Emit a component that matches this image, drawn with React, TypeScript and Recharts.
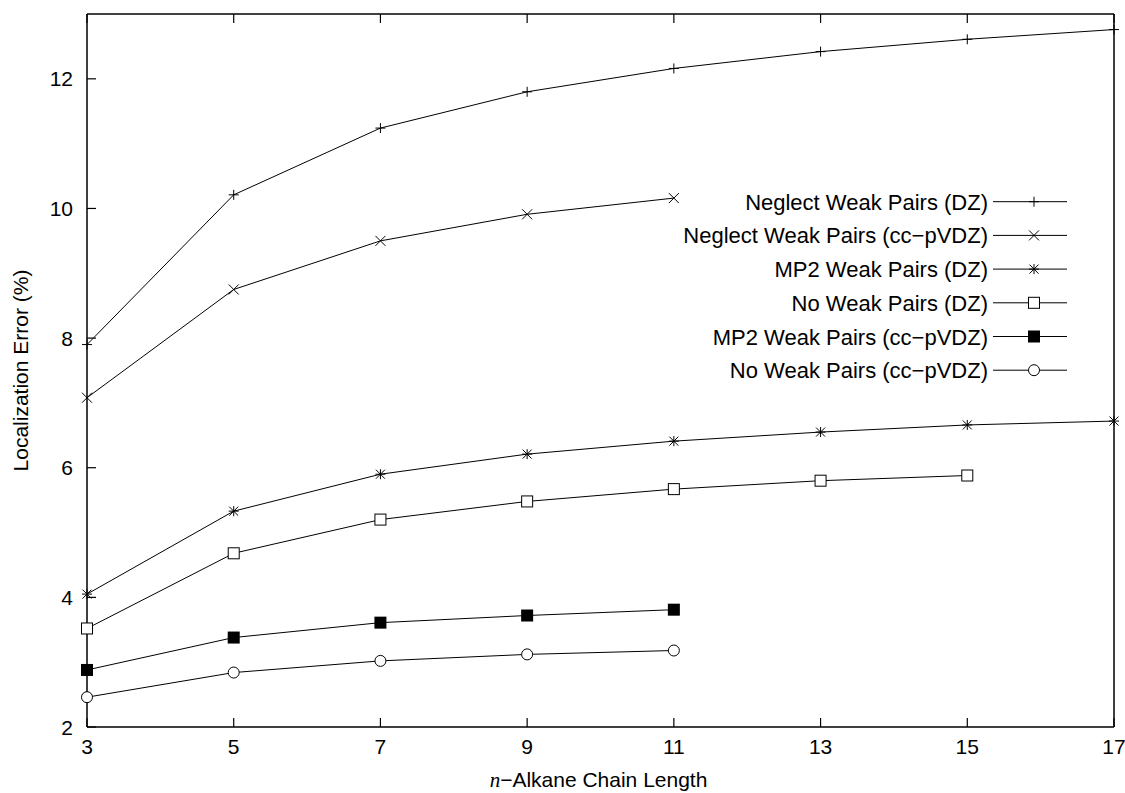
import React from "react";
import { LineChart, Line, XAxis, YAxis, Legend } from "recharts";

// chain length n of the n-alkane
const chainLengths = [3, 5, 7, 9, 11, 13, 15, 17];

// localization error (%) per series, null where there is no point
const neglectDZ = [7.9, 10.21, 11.24, 11.8, 12.16, 12.42, 12.61, 12.76];
const neglectCC = [7.08, 8.75, 9.5, 9.91, 10.16, null, null, null];
const mp2DZ = [4.05, 5.33, 5.9, 6.21, 6.41, 6.55, 6.66, 6.72];
const noDZ = [3.52, 4.68, 5.2, 5.48, 5.67, 5.8, 5.88, null];
const mp2CC = [2.88, 3.38, 3.61, 3.72, 3.81, null, null, null];
const noCC = [2.46, 2.84, 3.02, 3.12, 3.18, null, null, null];

const xTicks = [3, 5, 7, 9, 11, 13, 15, 17];
const yTicks = [2, 4, 6, 8, 10, 12];

type Shape = "plus" | "cross" | "star" | "square" | "filledSquare" | "circle";

const SERIES: { key: string; name: string; values: (number | null)[]; shape: Shape }[] = [
  { key: "neglectDZ", name: "Neglect Weak Pairs (DZ)", values: neglectDZ, shape: "plus" },
  { key: "neglectCC", name: "Neglect Weak Pairs (cc\u2212pVDZ)", values: neglectCC, shape: "cross" },
  { key: "mp2DZ", name: "MP2 Weak Pairs (DZ)", values: mp2DZ, shape: "star" },
  { key: "noDZ", name: "No Weak Pairs (DZ)", values: noDZ, shape: "square" },
  { key: "mp2CC", name: "MP2 Weak Pairs (cc\u2212pVDZ)", values: mp2CC, shape: "filledSquare" },
  { key: "noCC", name: "No Weak Pairs (cc\u2212pVDZ)", values: noCC, shape: "circle" },
];

const data = chainLengths.map((n, i) => {
  const row: Record<string, number | null> = { n };
  SERIES.forEach((s) => {
    row[s.key] = s.values[i];
  });
  return row;
});

const FONT = '"Liberation Sans", Arial, Helvetica, sans-serif';
const INK = "#000";

function Marker({ shape, cx, cy }: { shape: Shape; cx: number; cy: number }) {
  switch (shape) {
    case "plus":
      return (
        <g stroke={INK} strokeWidth={1}>
          <line x1={cx - 5} y1={cy} x2={cx + 5} y2={cy} />
          <line x1={cx} y1={cy - 5} x2={cx} y2={cy + 5} />
        </g>
      );
    case "cross":
      return (
        <g stroke={INK} strokeWidth={1}>
          <line x1={cx - 5} y1={cy - 5} x2={cx + 5} y2={cy + 5} />
          <line x1={cx - 5} y1={cy + 5} x2={cx + 5} y2={cy - 5} />
        </g>
      );
    case "star":
      return (
        <g stroke={INK} strokeWidth={1}>
          <line x1={cx - 5} y1={cy} x2={cx + 5} y2={cy} />
          <line x1={cx} y1={cy - 5} x2={cx} y2={cy + 5} />
          <line x1={cx - 4.5} y1={cy - 4.5} x2={cx + 4.5} y2={cy + 4.5} />
          <line x1={cx - 4.5} y1={cy + 4.5} x2={cx + 4.5} y2={cy - 4.5} />
        </g>
      );
    case "square":
      return <rect x={cx - 5.5} y={cy - 5.5} width={11} height={11} fill="#fff" stroke={INK} strokeWidth={1} />;
    case "filledSquare":
      return <rect x={cx - 6} y={cy - 6} width={12} height={12} fill={INK} />;
    default:
      return <circle cx={cx} cy={cy} r={5.5} fill="#fff" stroke={INK} strokeWidth={1} />;
  }
}

const dotFor = (shape: Shape) => (p: any) => {
  const { cx, cy, index } = p;
  if (cx == null || cy == null || p.value == null) return <g key={`d-${index}`} />;
  return (
    <g key={`d-${index}`}>
      <Marker shape={shape} cx={cx} cy={cy} />
    </g>
  );
};

// gnuplot-style ticks: marks point inward, labels outside
const BottomTick = ({ x, y, payload }: any) => (
  <g>
    <line x1={x} y1={y} x2={x} y2={y - 9} stroke={INK} strokeWidth={1.2} />
    <text x={x} y={y + 27} textAnchor="middle" fontSize={21} fontFamily={FONT} fill={INK}>
      {payload.value}
    </text>
  </g>
);

const LeftTick = ({ x, y, payload }: any) => (
  <g>
    <line x1={x} y1={y} x2={x + 9} y2={y} stroke={INK} strokeWidth={1.2} />
    <text x={x - 14} y={y + 7.5} textAnchor="end" fontSize={21} fontFamily={FONT} fill={INK}>
      {payload.value}
    </text>
  </g>
);

const TopTick = ({ x, y }: any) => <line x1={x} y1={y} x2={x} y2={y + 9} stroke={INK} strokeWidth={1.2} />;
const RightTick = ({ x, y }: any) => <line x1={x} y1={y} x2={x - 9} y2={y} stroke={INK} strokeWidth={1.2} />;

const XLabel = ({ viewBox }: any) => (
  <text
    x={viewBox.x + viewBox.width / 2 - 2}
    y={viewBox.y + 60}
    textAnchor="middle"
    fontSize={21}
    fontFamily={FONT}
    fill={INK}
  >
    <tspan fontFamily='"Liberation Serif", "Times New Roman", serif' fontStyle="italic">
      n
    </tspan>
    <tspan>{"\u2212Alkane Chain Length"}</tspan>
  </text>
);

const YLabel = ({ viewBox }: any) => {
  const cx = viewBox.x + 20;
  const cy = viewBox.y + viewBox.height / 2;
  return (
    <text
      x={cx}
      y={cy}
      transform={`rotate(-90 ${cx} ${cy})`}
      textAnchor="middle"
      dominantBaseline="central"
      fontSize={21}
      fontFamily={FONT}
      fill={INK}
    >
      Localization Error (%)
    </text>
  );
};

// key drawn in SERIES order, inside the plot on the right
const KeyBox = () => (
  <svg width={490} height={220} style={{ display: "block", overflow: "visible" }}>
    {SERIES.map((s, i) => {
      const y = 23.7 + i * 33.7;
      return (
        <g key={s.key}>
          <text x={400} y={y + 8} textAnchor="end" fontSize={22} fontFamily={FONT} fill={INK}>
            {s.name}
          </text>
          <line x1={405} y1={y} x2={479} y2={y} stroke={INK} strokeWidth={1} />
          <Marker shape={s.shape} cx={446} cy={y} />
        </g>
      );
    })}
  </svg>
);

export default function App() {
  return (
    // fixed so the page never scrolls and the chart sits at the viewport origin
    <div style={{ position: "fixed", left: 0, top: 0, width: 1125, height: 793, background: "#fff" }}>
      <LineChart width={1125} height={793} data={data} margin={{ top: 0, right: 0, bottom: 0, left: 0 }}>
        <XAxis
          xAxisId="bottom"
          dataKey="n"
          type="number"
          domain={[3, 17]}
          ticks={xTicks}
          height={66}
          tickSize={0}
          tickMargin={0}
          tickLine={false}
          axisLine={{ stroke: INK, strokeWidth: 1.5 }}
          tick={<BottomTick />}
          label={<XLabel />}
        />
        <XAxis
          xAxisId="top"
          orientation="top"
          dataKey="n"
          type="number"
          domain={[3, 17]}
          ticks={xTicks}
          height={14}
          tickSize={0}
          tickMargin={0}
          tickLine={false}
          axisLine={{ stroke: INK, strokeWidth: 1.5 }}
          tick={<TopTick />}
        />
        <YAxis
          yAxisId="left"
          type="number"
          domain={[2, 13]}
          ticks={yTicks}
          width={87}
          tickSize={0}
          tickMargin={0}
          tickLine={false}
          axisLine={{ stroke: INK, strokeWidth: 1.5 }}
          tick={<LeftTick />}
          label={<YLabel />}
        />
        <YAxis
          yAxisId="right"
          orientation="right"
          type="number"
          domain={[2, 13]}
          ticks={yTicks}
          width={11}
          tickSize={0}
          tickMargin={0}
          tickLine={false}
          axisLine={{ stroke: INK, strokeWidth: 1.5 }}
          tick={<RightTick />}
        />
        <Legend
          layout="vertical"
          align="center"
          verticalAlign="middle"
          wrapperStyle={{ position: "absolute", left: 588, top: 178, width: 490, height: 220 }}
          content={<KeyBox />}
        />
        {SERIES.map((s) => (
          <Line
            key={s.key}
            xAxisId="bottom"
            yAxisId="left"
            dataKey={s.key}
            name={s.name}
            type="linear"
            stroke={INK}
            strokeWidth={1}
            dot={dotFor(s.shape)}
            activeDot={false}
            isAnimationActive={false}
          />
        ))}
      </LineChart>
    </div>
  );
}
